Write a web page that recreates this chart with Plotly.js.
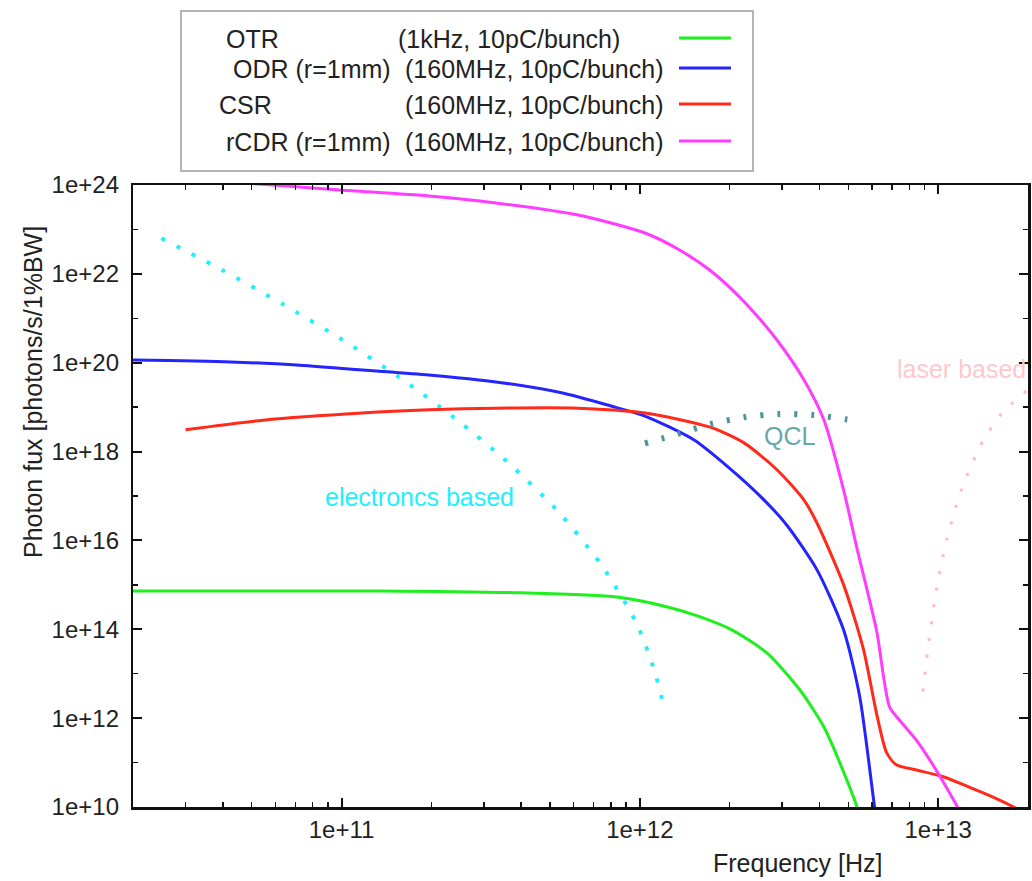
<!DOCTYPE html>
<html>
<head>
<meta charset="utf-8">
<script src="https://cdn.plot.ly/plotly-3.0.1.min.js"></script>
<style>html,body{margin:0;padding:0;background:#fff;}#chart{width:1032px;height:881px;}</style>
</head>
<body>
<div id="chart"></div>
<script>
// ---------------- data ----------------
// OTR (1kHz, 10pC/bunch)
const otrFreq = [2e10, 1.34e11, 4.01e11, 8.38e11, 1.21e12, 1.56e12, 2.04e12, 2.67e12, 3.44e12, 4.14e12, 4.82e12, 5.33e12, 5.5e12];
const otrFlux = [7.3e14, 7.3e14, 6.6e14, 5.3e14, 3.3e14, 2.0e14, 9.6e13, 2.9e13, 4.3e12, 6.3e11, 6.1e10, 1.05e10, 5e9];
// ODR (r=1mm) (160MHz, 10pC/bunch)
const odrFreq = [2e10, 4.24e10, 7.08e10, 1.175e11, 1.96e11, 3.29e11, 5.46e11, 8.0e11, 1.04e12, 1.52e12, 1.96e12, 2.61e12, 3.11e12, 3.92e12, 4.82e12, 5.46e12, 6.12e12, 6.26e12];
const odrFlux = [1.15e20, 1.04e20, 8.9e19, 6.85e19, 5.3e19, 3.7e19, 2.1e19, 1.06e19, 6.3e18, 1.82e18, 4.7e17, 8.1e16, 2.2e16, 2.2e15, 9.6e13, 3.0e12, 1e10, 4e9];
// CSR (160MHz, 10pC/bunch)
const csrFreq = [3e10, 5.46e10, 1.17e11, 1.96e11, 3.29e11, 6.2e11, 1.04e12, 1.73e12, 2.24e12, 2.88e12, 3.55e12, 3.92e12, 4.82e12, 5.62e12, 6.21e12, 6.71e12, 7.24e12, 8.45e12, 1.04e13, 1.27e13, 1.52e13, 1.79e13, 1.95e13];
const csrFlux = [3.1e18, 5.1e18, 7.4e18, 8.7e18, 9.5e18, 9.5e18, 7.4e18, 3.5e18, 1.55e18, 3.9e17, 8.1e16, 2.5e16, 1.0e15, 3.5e13, 1.3e12, 1.7e11, 8.9e10, 6.8e10, 4.8e10, 2.8e10, 1.7e10, 1e10, 7e9];
// rCDR (r=1mm) (160MHz, 10pC/bunch)
const rcdrFreq = [3e10, 5.89e10, 9.85e10, 1.96e11, 3.29e11, 6.21e11, 1.04e12, 1.34e12, 1.73e12, 2.24e12, 2.88e12, 3.55e12, 4.14e12, 4.82e12, 5.33e12, 6.21e12, 6.87e12, 7.41e12, 8.45e12, 9.84e12, 1.15e13, 1.2e13];
const rcdrFlux = [1.38e24, 1.0e24, 7.7e23, 5.65e23, 3.94e23, 2.11e23, 8.3e22, 3.63e22, 1.16e22, 2.33e21, 3.24e20, 4.08e19, 5.14e18, 1.36e17, 7.1e15, 9.6e13, 1.78e12, 9.1e11, 3.2e11, 6.8e10, 1.12e10, 6.6e9];
// electronics based (dotted)
const elecFreq = [2.49e10, 3.98e10, 6.34e10, 1e11, 1.56e11, 2.4e11, 3.61e11, 5.27e11, 7.39e11, 9.73e11, 1.12e12, 1.2e12];
const elecFlux = [6.3e22, 1.22e22, 2.1e21, 3.37e20, 4.7e19, 5.6e18, 5.7e17, 4.8e16, 2.95e15, 1.41e14, 1.15e13, 1.98e12];
// QCL (dotted)
const qclFreq = [1.04e12, 1.34e12, 1.73e12, 2.23e12, 2.92e12, 3.82e12, 4.96e12];
const qclFlux = [1.53e18, 2.49e18, 4.18e18, 5.9e18, 7.0e18, 6.66e18, 5.27e18];
// laser based (dotted)
const laserFreq = [8.89e12, 9.31e12, 9.87e12, 1.07e13, 1.2e13, 1.41e13, 1.64e13, 1.98e13];
const laserFlux = [3.94e12, 5.5e13, 8.07e14, 1.09e16, 1.46e17, 1.7e18, 7.5e18, 2.34e19];

// legend entries and tick labels
const legendNames = ['OTR', 'ODR (r=1mm)', 'CSR', 'rCDR (r=1mm)'];
const legendConds = ['(1kHz, 10pC/bunch)', '(160MHz, 10pC/bunch)', '(160MHz, 10pC/bunch)', '(160MHz, 10pC/bunch)'];
const xTickVals = [1e11, 1e12, 1e13];
const xTickText = ['1e+11', '1e+12', '1e+13'];
const yTickVals = [1e10, 1e12, 1e14, 1e16, 1e18, 1e20, 1e22, 1e24];
const yTickText = ['1e+10', '1e+12', '1e+14', '1e+16', '1e+18', '1e+20', '1e+22', '1e+24'];
const textLabels = ['electroncs based', 'QCL', 'laser based'];

// ---------------- styling ----------------
const FONT = 'Liberation Sans, Arial, Helvetica, sans-serif';
const colors = ['#1fee1f', '#2424ff', '#ff2a1a', '#ff3cff'];
const L = 133, R = 1028, T = 185, B = 807;
const px = x => (x - L) / (R - L);
const py = y => (B - y) / (B - T);

const line = (x, y, c, name) => ({x, y, name, type: 'scatter', mode: 'lines', line: {color: c, width: 3, shape: 'spline', smoothing: 0.7}, showlegend: false, hoverinfo: 'skip'});
const dotted = (x, y, c, w, dash, name) => ({x, y, name, type: 'scatter', mode: 'lines', line: {color: c, width: w, dash: dash, shape: 'spline', smoothing: 0.7}, showlegend: false, hoverinfo: 'skip'});

const traces = [
  dotted(elecFreq, elecFlux, '#1ff0ff', 4, '4px,13px', 'electronics based'),
  dotted(laserFreq, laserFlux, '#ffb8c4', 3, '3px,14px', 'laser based'),
  line(otrFreq, otrFlux, colors[0], legendNames[0]),
  line(odrFreq, odrFlux, colors[1], legendNames[1]),
  line(csrFreq, csrFlux, colors[2], legendNames[2]),
  line(rcdrFreq, rcdrFlux, colors[3], legendNames[3]),
  dotted(qclFreq, qclFlux, '#4f9494', 6, '3px,14px', 'QCL'),
];

const annotations = [];
const shapes = [];
// legend box
shapes.push({type: 'rect', xref: 'paper', yref: 'paper', x0: px(181), x1: px(753), y0: py(11), y1: py(171),
  line: {color: '#b4b4b4', width: 2}, fillcolor: 'rgba(0,0,0,0)'});
const rowY = [39, 69, 105, 142];
const nameX = [{x: 224, a: 'left'}, {x: 393, a: 'right'}, {x: 217, a: 'left'}, {x: 393, a: 'right'}];
const condRight = [622, 665, 665, 665];
for (let i = 0; i < 4; i++) {
  annotations.push({xref: 'paper', yref: 'paper', x: px(nameX[i].x), y: py(rowY[i]), xanchor: nameX[i].a, yanchor: 'middle',
    text: legendNames[i], showarrow: false, font: {family: FONT, size: 25, color: '#222'}});
  annotations.push({xref: 'paper', yref: 'paper', x: px(condRight[i]), y: py(rowY[i]), xanchor: 'right', yanchor: 'middle',
    text: legendConds[i], showarrow: false, font: {family: FONT, size: 25, color: '#222'}});
  shapes.push({type: 'line', xref: 'paper', yref: 'paper', x0: px(679), x1: px(731), y0: py(rowY[i] - 1), y1: py(rowY[i] - 1),
    line: {color: colors[i], width: 3}});
}
// in-plot labels
annotations.push({xref: 'paper', yref: 'paper', x: px(419), y: py(497), xanchor: 'center', yanchor: 'middle', text: textLabels[0], showarrow: false, font: {family: FONT, size: 25, color: '#1ff0ff'}});
annotations.push({xref: 'paper', yref: 'paper', x: px(790), y: py(436), xanchor: 'center', yanchor: 'middle', text: textLabels[1], showarrow: false, font: {family: FONT, size: 25, color: '#6aa8a8'}});
annotations.push({xref: 'paper', yref: 'paper', x: px(1028), y: py(369), xanchor: 'right', yanchor: 'middle', text: textLabels[2], showarrow: false, font: {family: FONT, size: 25, color: '#ffc8d0'}});
// axis titles
annotations.push({xref: 'paper', yref: 'paper', x: px(798), y: py(863), xanchor: 'center', yanchor: 'middle', text: 'Frequency [Hz]', showarrow: false, font: {family: FONT, size: 25, color: '#222'}});
annotations.push({xref: 'paper', yref: 'paper', x: px(33), y: py(392), xanchor: 'center', yanchor: 'middle', textangle: -90, text: 'Photon fux [photons/s/1%BW]', showarrow: false, font: {family: FONT, size: 25, color: '#222'}});

// pad the y tick labels away from the axis (gnuplot-like spacing)
const yTickShown = yTickText.map(t => t + '\u00A0\u200B');

const layout = {
  width: 1032, height: 881,
  margin: {l: L, r: 1032 - R, t: T, b: 881 - B, pad: 0},
  paper_bgcolor: '#fff', plot_bgcolor: '#fff',
  showlegend: false,
  font: {family: FONT, size: 24, color: '#222'},
  xaxis: {
    type: 'log', range: [Math.log10(2e10), Math.log10(2e13)],
    tickmode: 'array', tickvals: xTickVals, ticktext: xTickText,
    ticks: 'inside', ticklen: 9, tickwidth: 2, tickcolor: '#111',
    minor: {dtick: 'D1', ticks: 'inside', ticklen: 5, tickwidth: 1.5, tickcolor: '#111', showgrid: false},
    showline: true, mirror: 'allticks', linecolor: '#111', linewidth: 2.5,
    showgrid: false, zeroline: false,
    tickfont: {family: FONT, size: 24, color: '#222'}
  },
  yaxis: {
    type: 'log', range: [10, 24],
    tickmode: 'array', tickvals: yTickVals, ticktext: yTickShown,
    ticks: 'inside', ticklen: 9, tickwidth: 2, tickcolor: '#111',
    minor: {dtick: 1, ticks: 'inside', ticklen: 5, tickwidth: 1.5, tickcolor: '#111', showgrid: false},
    showline: true, mirror: 'allticks', linecolor: '#111', linewidth: 2.5,
    showgrid: false, zeroline: false,
    tickfont: {family: FONT, size: 24, color: '#222'}
  },
  annotations, shapes
};

Plotly.newPlot('chart', traces, layout, {displayModeBar: false, staticPlot: true});
</script>
</body>
</html>
